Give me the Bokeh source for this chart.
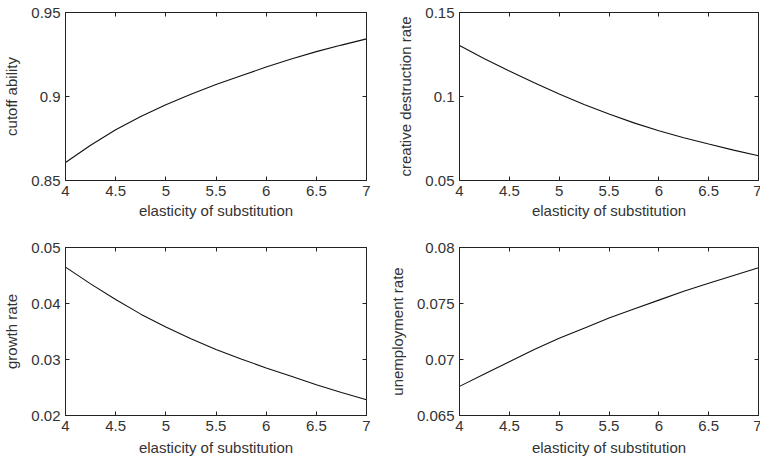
from bokeh.plotting import figure
from bokeh.layouts import column, row
from bokeh.models import LinearAxis, FixedTicker, Range1d
from bokeh.embed import file_html
from bokeh.resources import INLINE

# ---- data ----
sigma = [4.0, 4.25, 4.5, 4.75, 5.0, 5.25, 5.5, 5.75, 6.0, 6.25, 6.5, 6.75, 7.0]
cutoff_ability = [0.8607, 0.8710, 0.8802, 0.8881, 0.8951, 0.9013, 0.9071,
                  0.9124, 0.9175, 0.9223, 0.9267, 0.9306, 0.9343]
creative_destruction = [0.1303, 0.1225, 0.1152, 0.1082, 0.1015, 0.0953, 0.0896,
                        0.0843, 0.0796, 0.0755, 0.0717, 0.0681, 0.0647]
growth_rate = [0.0465, 0.0435, 0.0407, 0.0381, 0.0358, 0.0337, 0.0318,
               0.0301, 0.0285, 0.0270, 0.0255, 0.0241, 0.0228]
unemployment_rate = [0.0676, 0.0687, 0.0698, 0.0709, 0.0719, 0.0728, 0.0737,
                     0.0745, 0.0753, 0.0761, 0.0768, 0.0775, 0.0782]

x_ticks = [4, 4.5, 5, 5.5, 6, 6.5, 7]
x_tick_labels = ["4", "4.5", "5", "5.5", "6", "6.5", "7"]
xlabel = "elasticity of substitution"

yt_cut = [0.85, 0.9, 0.95]
yl_cut = ["0.85", "0.9", "0.95"]
yt_cd = [0.05, 0.1, 0.15]
yl_cd = ["0.05", "0.1", "0.15"]
yt_g = [0.02, 0.03, 0.04, 0.05]
yl_g = ["0.02", "0.03", "0.04", "0.05"]
yt_u = [0.065, 0.07, 0.075, 0.08]
yl_u = ["0.065", "0.07", "0.075", "0.08"]

FONT = "Liberation Sans"
TXT = "#333333"
FS = "15px"


def make(y, yticks, ylabels, ylab, bl, br, bt, bb, frame_w, frame_h, xlab_standoff):
    p = figure(output_backend="svg", toolbar_location=None,
               frame_width=frame_w, frame_height=frame_h,
               min_border_left=bl, min_border_right=br,
               min_border_top=bt, min_border_bottom=bb,
               x_range=Range1d(x_ticks[0], x_ticks[-1]),
               y_range=Range1d(yticks[0], yticks[-1]),
               x_axis_location=None, y_axis_location=None)
    p.line(sigma, y, line_color="#111111", line_width=1.1)
    p.grid.visible = False
    p.outline_line_color = "#222222"
    p.outline_line_width = 1
    p.background_fill_color = "white"
    p.border_fill_color = "white"

    def style(ax, ticks, labels, show):
        ax.ticker = FixedTicker(ticks=ticks)
        ax.major_label_overrides = {t: l for t, l in zip(ticks, labels)}
        ax.major_tick_in = 4
        ax.major_tick_out = 0
        ax.minor_tick_line_color = None
        ax.axis_line_color = "#222222"
        ax.major_tick_line_color = "#222222"
        ax.major_label_text_font = FONT
        ax.axis_label_text_font = FONT
        ax.axis_label_text_font_size = FS
        ax.axis_label_text_font_style = "normal"
        ax.axis_label_text_color = TXT
        if show:
            ax.major_label_text_font_size = FS
            ax.major_label_text_color = TXT
        else:
            ax.major_label_text_font_size = "1px"
            ax.major_label_text_color = None
            ax.major_label_standoff = 0

    xb = LinearAxis(axis_label=xlabel)
    style(xb, x_ticks, x_tick_labels, True)
    xb.major_label_standoff = 5
    xb.axis_label_standoff = xlab_standoff
    p.add_layout(xb, "below")
    yl = LinearAxis(axis_label=ylab)
    style(yl, yticks, ylabels, True)
    yl.major_label_standoff = 5
    yl.axis_label_standoff = 8
    p.add_layout(yl, "left")
    xa = LinearAxis()
    style(xa, x_ticks, x_tick_labels, False)
    p.add_layout(xa, "above")
    yr = LinearAxis()
    style(yr, yticks, ylabels, False)
    p.add_layout(yr, "right")
    return p


p1 = make(cutoff_ability, yt_cut, yl_cut, "cutoff ability", 64, 15, 12, 50, 301, 168, 3)
p2 = make(creative_destruction, yt_cd, yl_cd, "creative destruction rate", 78, 3, 12, 50, 299, 168, 3)
p3 = make(growth_rate, yt_g, yl_g, "growth rate", 64, 15, 17, 45, 301, 168, 5)
p4 = make(unemployment_rate, yt_u, yl_u, "unemployment rate", 78, 3, 17, 45, 299, 168, 5)

layout = column(row(p1, p2, spacing=0), row(p3, p4, spacing=0), spacing=0)
open("out.html", "w").write(file_html(layout, INLINE))
